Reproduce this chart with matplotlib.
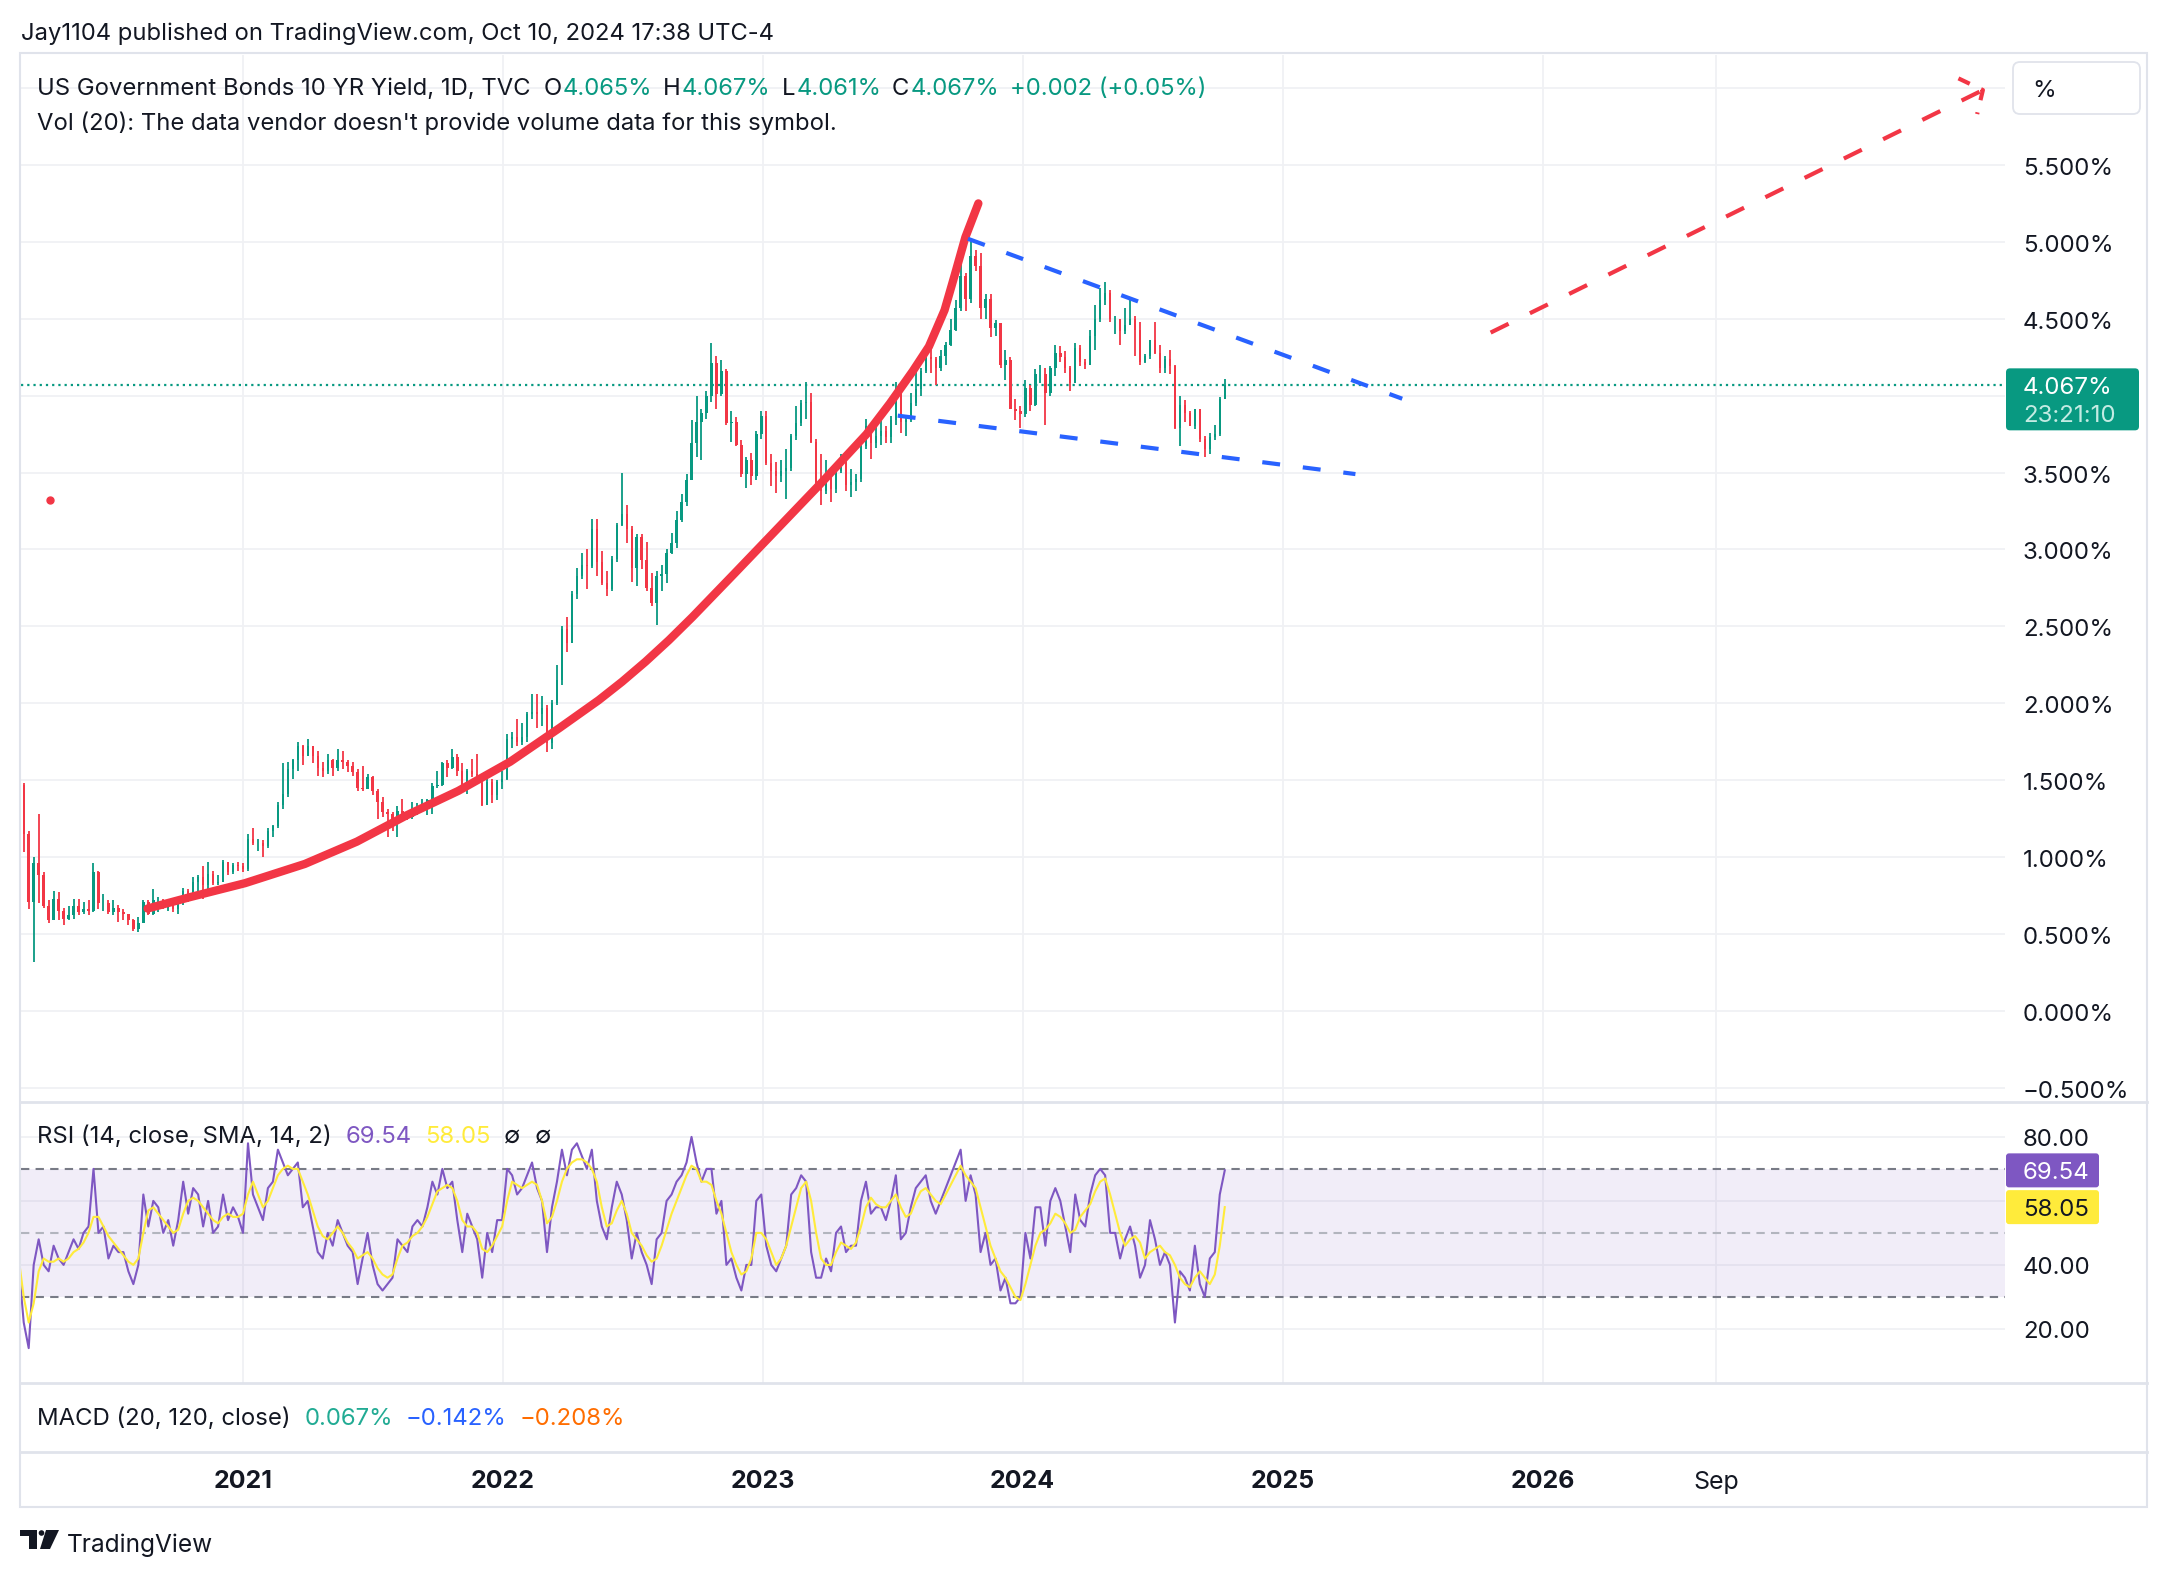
import numpy as np
import pandas as pd
import matplotlib
matplotlib.use('Agg')
import matplotlib.pyplot as plt
import matplotlib.dates as mdates
from matplotlib.patches import FancyBboxPatch, Rectangle, Polygon, Circle

plt.rcParams['font.family'] = ['Inter', 'DejaVu Sans']

# weekly US 10Y yield, week ending Friday (Feb 21 2020 .. Oct 11 2024)
first_open = 1.56
close_2020 = [1.47, 1.15, 0.71, 0.96, 0.88, 0.68, 0.59, 0.73, 0.65, 0.60,
              0.62, 0.68, 0.64, 0.66, 0.65, 0.90, 0.70, 0.70, 0.64, 0.67,
              0.64, 0.63, 0.59, 0.53, 0.57, 0.71, 0.63, 0.72, 0.72, 0.67,
              0.69, 0.66, 0.70, 0.78, 0.74, 0.84, 0.87, 0.82, 0.89, 0.83,
              0.84, 0.97, 0.90, 0.95, 0.94]
high_2020 = [1.59, 1.48, 1.17, 1.00, 1.28, 0.90, 0.72, 0.78, 0.77, 0.67,
             0.68, 0.73, 0.73, 0.71, 0.72, 0.96, 0.91, 0.76, 0.72, 0.72,
             0.69, 0.66, 0.63, 0.60, 0.61, 0.72, 0.72, 0.79, 0.74, 0.73,
             0.71, 0.70, 0.71, 0.80, 0.79, 0.87, 0.88, 0.94, 0.97, 0.91,
             0.88, 0.98, 0.97, 0.96, 0.97]
low_2020 = [1.46, 1.03, 0.66, 0.32, 0.70, 0.67, 0.57, 0.59, 0.59, 0.56,
            0.59, 0.60, 0.62, 0.63, 0.62, 0.64, 0.66, 0.65, 0.63, 0.62,
            0.58, 0.59, 0.56, 0.52, 0.51, 0.57, 0.62, 0.62, 0.64, 0.66,
            0.65, 0.64, 0.63, 0.69, 0.71, 0.74, 0.76, 0.73, 0.77, 0.82,
            0.82, 0.84, 0.88, 0.89, 0.91]

close_2021 = [0.92, 1.12, 1.09, 1.09, 1.07, 1.17, 1.20, 1.34, 1.41, 1.57,
              1.63, 1.72, 1.66, 1.72, 1.66, 1.58, 1.56, 1.63, 1.58, 1.63,
              1.62, 1.59, 1.55, 1.45, 1.44, 1.52, 1.43, 1.36, 1.29, 1.28,
              1.22, 1.30, 1.28, 1.26, 1.31, 1.32, 1.34, 1.37, 1.46, 1.47,
              1.61, 1.58, 1.65, 1.56, 1.45, 1.56, 1.54, 1.48, 1.34, 1.49,
              1.40, 1.49, 1.51]
high_2021 = [0.96, 1.15, 1.19, 1.12, 1.11, 1.19, 1.21, 1.36, 1.61, 1.62,
             1.64, 1.75, 1.73, 1.77, 1.72, 1.69, 1.62, 1.67, 1.64, 1.70,
             1.69, 1.63, 1.62, 1.57, 1.59, 1.54, 1.53, 1.44, 1.39, 1.31,
             1.29, 1.33, 1.38, 1.30, 1.36, 1.35, 1.38, 1.38, 1.48, 1.56,
             1.62, 1.63, 1.70, 1.67, 1.61, 1.57, 1.64, 1.67, 1.50, 1.52,
             1.51, 1.50, 1.56]
low_2021 = [0.90, 0.91, 1.08, 1.04, 1.00, 1.06, 1.13, 1.19, 1.31, 1.39,
            1.51, 1.56, 1.60, 1.66, 1.61, 1.53, 1.52, 1.54, 1.53, 1.56,
            1.57, 1.55, 1.53, 1.43, 1.43, 1.44, 1.40, 1.25, 1.26, 1.13,
            1.17, 1.13, 1.24, 1.24, 1.25, 1.27, 1.29, 1.27, 1.28, 1.45,
            1.46, 1.52, 1.57, 1.53, 1.44, 1.41, 1.52, 1.48, 1.33, 1.34,
            1.35, 1.37, 1.44]

close_2022 = [1.77, 1.78, 1.75, 1.78, 1.93, 1.94, 1.93, 1.97, 1.74, 2.00,
              2.15, 2.48, 2.39, 2.71, 2.83, 2.90, 2.89, 3.13, 2.92, 2.78,
              2.74, 2.94, 3.16, 3.23, 3.13, 2.88, 3.08, 2.93, 2.75, 2.65,
              2.83, 2.84, 2.98, 3.04, 3.19, 3.31, 3.45, 3.69, 3.83, 3.89,
              4.00, 4.21, 4.01, 4.16, 3.82, 3.83, 3.68, 3.49, 3.58, 3.48,
              3.75, 3.87]
high_2022 = [1.80, 1.81, 1.90, 1.87, 1.94, 2.06, 2.06, 2.05, 1.99, 2.02,
             2.25, 2.50, 2.56, 2.73, 2.88, 2.98, 3.00, 3.20, 3.20, 2.99,
             2.86, 2.96, 3.17, 3.50, 3.29, 3.15, 3.10, 3.10, 3.05, 2.85,
             2.86, 2.90, 3.00, 3.11, 3.25, 3.36, 3.49, 3.84, 4.00, 3.91,
             4.03, 4.34, 4.26, 4.23, 4.17, 3.90, 3.86, 3.71, 3.60, 3.63,
             3.77, 3.90]
low_2022 = [1.50, 1.71, 1.72, 1.73, 1.75, 1.90, 1.84, 1.85, 1.68, 1.70,
            1.99, 2.12, 2.33, 2.39, 2.68, 2.81, 2.74, 2.88, 2.83, 2.77,
            2.70, 2.73, 2.92, 3.15, 3.04, 2.79, 2.76, 2.87, 2.73, 2.63,
            2.51, 2.73, 2.78, 2.97, 3.01, 3.18, 3.28, 3.48, 3.60, 3.58,
            3.85, 3.96, 3.91, 4.00, 3.81, 3.70, 3.67, 3.47, 3.40, 3.42,
            3.45, 3.72]

close_2023 = [3.56, 3.51, 3.48, 3.51, 3.53, 3.74, 3.82, 3.95, 3.96, 3.70,
              3.43, 3.38, 3.47, 3.39, 3.51, 3.57, 3.42, 3.44, 3.46, 3.67,
              3.80, 3.69, 3.74, 3.77, 3.73, 3.84, 4.05, 3.83, 3.84, 3.95,
              4.04, 4.16, 4.25, 4.24, 4.18, 4.26, 4.33, 4.43, 4.57, 4.78,
              4.63, 4.91, 4.84, 4.57, 4.63, 4.44, 4.47, 4.20, 4.23, 3.91,
              3.90, 3.88]
high_2023 = [3.90, 3.62, 3.57, 3.58, 3.65, 3.75, 3.93, 3.97, 4.09, 4.02,
             3.72, 3.62, 3.58, 3.49, 3.53, 3.62, 3.60, 3.52, 3.49, 3.70,
             3.85, 3.82, 3.80, 3.84, 3.80, 3.87, 4.09, 4.09, 3.87, 4.02,
             4.20, 4.18, 4.33, 4.33, 4.25, 4.30, 4.35, 4.50, 4.62, 4.89,
             4.80, 5.02, 4.95, 4.93, 4.66, 4.66, 4.49, 4.47, 4.30, 4.25,
             3.98, 3.93]
low_2023 = [3.55, 3.41, 3.37, 3.44, 3.33, 3.51, 3.71, 3.80, 3.85, 3.69,
            3.37, 3.29, 3.36, 3.31, 3.37, 3.50, 3.38, 3.34, 3.38, 3.44,
            3.65, 3.59, 3.66, 3.68, 3.69, 3.69, 3.81, 3.76, 3.74, 3.83,
            3.93, 4.00, 4.15, 4.15, 4.07, 4.16, 4.20, 4.32, 4.42, 4.55,
            4.55, 4.60, 4.81, 4.50, 4.50, 4.38, 4.39, 4.18, 4.10, 3.91,
            3.84, 3.79]

close_2024 = [4.05, 3.94, 4.14, 4.14, 4.02, 4.18, 4.28, 4.25, 4.18, 4.08,
              4.31, 4.22, 4.20, 4.39, 4.50, 4.62, 4.67, 4.50, 4.50, 4.42,
              4.46, 4.50, 4.43, 4.22, 4.26, 4.36, 4.28, 4.18, 4.24, 4.19,
              3.79, 3.94, 3.89, 3.80, 3.91, 3.72, 3.65, 3.73, 3.75, 3.98,
              4.067]
high_2024 = [4.10, 4.07, 4.17, 4.20, 4.18, 4.19, 4.33, 4.32, 4.29, 4.19,
             4.34, 4.33, 4.24, 4.43, 4.59, 4.70, 4.74, 4.69, 4.52, 4.50,
             4.57, 4.63, 4.52, 4.48, 4.27, 4.36, 4.48, 4.33, 4.26, 4.30,
             4.20, 4.00, 3.97, 3.90, 3.91, 3.91, 3.74, 3.76, 3.81, 3.99,
             4.11]
low_2024 = [3.86, 3.90, 3.93, 4.08, 3.81, 4.00, 4.13, 4.22, 4.15, 4.03,
            4.08, 4.19, 4.17, 4.20, 4.30, 4.48, 4.59, 4.48, 4.40, 4.33,
            4.40, 4.46, 4.26, 4.20, 4.21, 4.24, 4.27, 4.15, 4.15, 4.14,
            3.78, 3.67, 3.83, 3.80, 3.78, 3.70, 3.60, 3.62, 3.71, 3.74,
            4.00]

# RSI(14) and its SMA(14), same weeks
rsi_2020 = [40, 22, 14, 40, 48, 40, 38, 46, 42, 40, 44, 48, 45, 50, 52, 70, 50, 52, 42, 46,
            44, 44, 38, 34, 40, 62, 52, 60, 58, 50, 54, 46, 54, 66, 56, 64, 62, 52, 60, 50,
            52, 62, 54, 58, 55]
rsi_2021 = [50, 78, 62, 58, 54, 64, 66, 76, 72, 68, 70, 72, 58, 60, 52, 44, 42, 50, 46, 54,
            50, 46, 44, 34, 42, 50, 40, 34, 32, 34, 36, 48, 46, 44, 52, 54, 52, 58, 66, 62,
            70, 64, 66, 54, 44, 56, 52, 48, 36, 50, 44, 54, 54]
rsi_2022 = [70, 68, 62, 64, 68, 72, 64, 60, 44, 58, 66, 76, 68, 76, 78, 74, 70, 76, 60, 52,
            48, 58, 66, 62, 54, 42, 50, 44, 40, 34, 48, 50, 60, 62, 66, 68, 72, 80, 72, 66,
            70, 70, 56, 60, 40, 42, 36, 32, 40, 40, 60, 62]
rsi_2023 = [46, 40, 38, 42, 46, 62, 64, 68, 66, 44, 36, 36, 42, 38, 50, 52, 44, 46, 46, 60,
            66, 56, 58, 58, 54, 60, 68, 48, 50, 58, 64, 66, 68, 60, 56, 60, 64, 68, 72, 76,
            60, 68, 62, 44, 50, 40, 42, 32, 36, 28, 28, 30]
rsi_2024 = [50, 42, 58, 58, 46, 60, 64, 60, 52, 44, 62, 54, 52, 62, 68, 70, 68, 50, 50, 42,
            48, 52, 46, 36, 40, 54, 48, 40, 44, 40, 22, 38, 36, 32, 46, 34, 30, 42, 44, 62,
            69.54]
ma_2020 = [42, 30, 22, 28, 38, 42, 41, 41, 42, 41, 42, 44, 45, 47, 50, 55, 55, 52, 49, 47,
           45, 43, 41, 40, 42, 50, 57, 58, 56, 54, 52, 50, 51, 56, 60, 61, 60, 58, 56, 54,
           53, 55, 56, 55, 55]
ma_2021 = [56, 62, 66, 62, 58, 60, 64, 68, 70, 71, 70, 70, 66, 62, 57, 52, 49, 48, 50, 52,
           50, 47, 45, 42, 43, 44, 42, 39, 37, 36, 37, 42, 46, 47, 49, 50, 52, 55, 59, 63,
           64, 65, 64, 60, 54, 52, 52, 50, 45, 44, 46, 49, 52]
ma_2022 = [60, 66, 65, 64, 65, 66, 65, 60, 53, 55, 60, 66, 70, 72, 73, 73, 72, 70, 66, 58,
           52, 53, 57, 60, 56, 50, 48, 46, 43, 41, 42, 46, 51, 56, 60, 64, 68, 71, 70, 66,
           66, 65, 60, 56, 50, 44, 40, 37, 38, 42, 50, 50]
ma_2023 = [48, 44, 40, 42, 46, 52, 58, 64, 66, 60, 50, 42, 40, 40, 44, 47, 46, 45, 47, 52,
           58, 61, 59, 58, 58, 60, 62, 58, 55, 56, 60, 63, 64, 62, 60, 59, 62, 65, 68, 71,
           68, 66, 64, 58, 52, 46, 42, 38, 36, 33, 30, 29]
ma_2024 = [34, 40, 46, 50, 51, 53, 56, 55, 53, 50, 51, 55, 57, 59, 63, 66, 67, 62, 56, 50,
           46, 48, 49, 47, 42, 44, 45, 46, 44, 43, 40, 36, 34, 33, 36, 38, 36, 34, 37, 46,
           58.05]

# hand-drawn annotations (fractional year, yield %)
curve_yr = [2020.635, 2020.80, 2021.01, 2021.24, 2021.44, 2021.63, 2021.83, 2022.03,
            2022.22, 2022.37, 2022.46, 2022.55, 2022.64, 2022.73, 2022.89, 2023.06,
            2023.23, 2023.40, 2023.49, 2023.578, 2023.64, 2023.70, 2023.74, 2023.78,
            2023.83]
curve_val = [0.665, 0.74, 0.83, 0.955, 1.10, 1.27, 1.43, 1.62, 1.84, 2.02, 2.14, 2.27,
             2.41, 2.56, 2.84, 3.14, 3.44, 3.75, 3.95, 4.16, 4.32, 4.556, 4.79, 5.03, 5.25]
upper_yr, upper_val = [2023.79, 2025.46], [5.02, 3.98]
lower_yr, lower_val = [2023.52, 2025.28], [3.87, 3.49]
arrow_yr, arrow_val = [2025.80, 2027.693], [4.41, 5.987]
head_yr, head_val = [2027.599, 2027.693, 2027.671], [6.063, 5.987, 5.831]
dot_yr, dot_val = 2020.26, 3.32
last_price = 4.067

price_ticks = [5.5, 5.0, 4.5, 3.5, 3.0, 2.5, 2.0, 1.5, 1.0, 0.5, 0.0, -0.5]
price_labels = ['5.500%', '5.000%', '4.500%', '3.500%', '3.000%', '2.500%', '2.000%',
                '1.500%', '1.000%', '0.500%', '0.000%', '\u22120.500%']
rsi_ticks = [80, 40, 20]
rsi_labels = ['80.00', '40.00', '20.00']
time_ticks = ['2021-01-01', '2022-01-01', '2023-01-01', '2024-01-01', '2025-01-01',
              '2026-01-01', '2026-09-01']
time_labels = ['2021', '2022', '2023', '2024', '2025', '2026', 'Sep']

GREEN = '#089981'
RED = '#F23645'
BLUE = '#2962FF'
PURPLE = '#7E57C2'
YELLOW = '#FFEB3B'
INK = '#131722'
GRID = '#F0F1F4'
SEP = '#E0E3EB'

close = np.array(close_2020 + close_2021 + close_2022 + close_2023 + close_2024)
high = np.array(high_2020 + high_2021 + high_2022 + high_2023 + high_2024)
low = np.array(low_2020 + low_2021 + low_2022 + low_2023 + low_2024)
rsi = np.array(rsi_2020 + rsi_2021 + rsi_2022 + rsi_2023 + rsi_2024)
rsi_ma = np.array(ma_2020 + ma_2021 + ma_2022 + ma_2023 + ma_2024)
opens = np.r_[first_open, close[:-1]]
dates = pd.date_range('2020-02-21', periods=len(close), freq='W-FRI')
xd = mdates.date2num(dates)


def yr(y):
    return mdates.date2num(pd.Timestamp('2020-01-01')) + (np.asarray(y) - 2020) * 365.25


W, H = 2168, 1576
DY = 3  # text baseline nudge (px)
fig = plt.figure(figsize=(W / 100, H / 100), dpi=100)
fig.patch.set_facecolor('white')


def box(x0, y0, x1, y1):
    return [x0 / W, 1 - y1 / H, (x1 - x0) / W, (y1 - y0) / H]


ax_p = fig.add_axes(box(21, 55, 2005, 1102))
ax_r = fig.add_axes(box(21, 1102, 2005, 1383))
ax_m = fig.add_axes(box(21, 1383, 2005, 1452))

jan21 = mdates.date2num(pd.Timestamp('2021-01-01'))
ppd = 1300 / 1826.0
xlim = (jan21 - 222 / ppd, jan21 + 1762 / ppd)
for a in (ax_p, ax_r, ax_m):
    a.set_xlim(*xlim)
    a.set_xticks([])
    a.set_yticks([])
    for s in a.spines.values():
        s.set_visible(False)
    a.patch.set_alpha(0)

ax_p.set_ylim(-0.593, 6.215)
ax_r.set_ylim(3.1, 90.9)
ax_m.set_ylim(0, 1)

# grid
for v in np.arange(-0.5, 6.01, 0.5):
    ax_p.axhline(v, color=GRID, lw=1.3, zorder=0)
for v in [80, 60, 40, 20]:
    ax_r.axhline(v, color=GRID, lw=1.3, zorder=0)
for d in time_ticks:
    for a in (ax_p, ax_r):
        a.axvline(mdates.date2num(pd.Timestamp(d)), color=GRID, lw=1.3, zorder=0)

# candles
cols = np.where(close >= opens, GREEN, RED)
ax_p.vlines(xd, low, high, colors=cols, lw=1.3, zorder=2)
ax_p.bar(xd, close - opens, bottom=opens, width=3.4, color=cols, linewidth=0, zorder=2)

ax_p.axhline(last_price, color=GREEN, lw=1.6, ls=(0, (1, 1.8)), zorder=1)

# drawings
ax_p.plot(yr(curve_yr), curve_val, color=RED, lw=6, solid_capstyle='round',
          solid_joinstyle='round', zorder=4)
ax_p.plot(yr(upper_yr), upper_val, color=BLUE, lw=3, dashes=(4.3, 5.5), zorder=4)
ax_p.plot(yr(lower_yr), lower_val, color=BLUE, lw=3, dashes=(4.3, 5.5), zorder=4)
ax_p.plot(yr(arrow_yr), arrow_val, color=RED, lw=3, dashes=(4.8, 5.7), zorder=4)
ax_p.plot(yr(head_yr), head_val, color=RED, lw=3, dashes=(3.0, 3.0), zorder=4)
ax_p.plot(yr(dot_yr), dot_val, 'o', color=RED, ms=5, zorder=4)

# RSI pane
ax_r.axhspan(30, 70, color=PURPLE, alpha=0.1, lw=0, zorder=0)
ax_r.axhline(70, color='#787B86', lw=1.5, ls=(0, (4, 3)), zorder=1)
ax_r.axhline(50, color='#B2B5BE', lw=1.5, ls=(0, (4, 3)), zorder=1)
ax_r.axhline(30, color='#787B86', lw=1.5, ls=(0, (4, 3)), zorder=1)
ax_r.plot(xd, rsi, color=PURPLE, lw=1.5, zorder=3)
ax_r.plot(xd, rsi_ma, color=YELLOW, lw=1.5, zorder=4)

# overlay in pixel coordinates
ov = fig.add_axes([0, 0, 1, 1])
ov.set_xlim(0, W)
ov.set_ylim(H, 0)
ov.axis('off')
ov.patch.set_alpha(0)
renderer = fig.canvas.get_renderer()


def size_for(s, width, **kw):
    t = ov.text(0, 0, s, fontsize=20, **kw)
    w = t.get_window_extent(renderer).width
    t.remove()
    return 20 * width / w


def seq(x, y, parts, size):
    for s, c, gap in parts:
        t = ov.text(x, y + DY, s, color=c, fontsize=size, va='center', ha='left')
        x += t.get_window_extent(renderer).width + gap


def pix_y(ax, v):
    return H - ax.transData.transform((0, v))[1]


# frame and separators
ov.add_patch(Rectangle((20, 53), 2127, 1454, fill=False, ec=SEP, lw=1.5))
for y in (1102, 1383, 1452):
    ov.plot([20, 2147], [y, y], color=SEP, lw=2)

# top texts
title = 'Jay1104 published on TradingView.com, Oct 10, 2024 17:38 UTC-4'
fs_title = size_for(title, 753)
ov.text(21, 30 + DY + 1, title, fontsize=fs_title, color=INK, va='center')
fs_h = size_for('US Government Bonds 10 YR Yield, 1D, TVC', 493)
seq(37, 86, [('US Government Bonds 10 YR Yield, 1D, TVC', INK, 13),
             ('O', INK, 1), ('4.065%', GREEN, 11),
             ('H', INK, 1), ('4.067%', GREEN, 11),
             ('L', INK, 1), ('4.061%', GREEN, 11),
             ('C', INK, 1), ('4.067%', GREEN, 11),
             ('+0.002 (+0.05%)', GREEN, 0)], fs_h)
ov.text(37, 120 + DY, "Vol (20): The data vendor doesn't provide volume data for this symbol.",
        fontsize=fs_h, color=INK, va='center')

fs_r = size_for('RSI (14, close, SMA, 14, 2)', 295)
seq(37, 1134, [('RSI (14, close, SMA, 14, 2)', INK, 14), ('69.54', PURPLE, 13),
               ('58.05', YELLOW, 14), ('\u2205', INK, 14), ('\u2205', INK, 0)], fs_r)
seq(37, 1416, [('MACD (20, 120, close)', INK, 14), ('0.067%', '#22AB94', 13),
               ('\u22120.142%', BLUE, 13), ('\u22120.208%', '#FF6D00', 0)], fs_r)

# price scale
fs_ax = size_for('5.500%', 90)
for v, s in zip(price_ticks, price_labels):
    ov.text(2023, pix_y(ax_p, v) + DY + 1, s, fontsize=fs_ax, color=INK, va='center')
for v, s in zip(rsi_ticks, rsi_labels):
    ov.text(2023, pix_y(ax_r, v) + DY, s, fontsize=fs_ax, color=INK, va='center')

py = pix_y(ax_p, last_price)
ov.add_patch(FancyBboxPatch((2006, py - 17), 133, 62, boxstyle='round,pad=0,rounding_size=4',
                            fc=GREEN, ec='none'))
ov.text(2023, py + DY, '4.067%', fontsize=fs_ax, color='white', va='center')
ov.text(2023, py + 28 + DY, '23:21:10', fontsize=fs_ax, color='#C4EBE3', va='center')

ov.add_patch(FancyBboxPatch((2013, 62), 127, 52, boxstyle='round,pad=0,rounding_size=7',
                            fc='white', ec=SEP, lw=1.3))
ov.text(2032, 88 + DY, '%', fontsize=fs_ax, color=INK, va='center')

ry = pix_y(ax_r, rsi[-1])
ov.add_patch(FancyBboxPatch((2006, ry - 17), 93, 34, boxstyle='round,pad=0,rounding_size=3',
                            fc=PURPLE, ec='none'))
ov.text(2023, ry + DY, '69.54', fontsize=fs_ax, color='white', va='center')
my = pix_y(ax_r, rsi_ma[-1])
ov.add_patch(FancyBboxPatch((2006, my - 17), 93, 34, boxstyle='round,pad=0,rounding_size=3',
                            fc=YELLOW, ec='none'))
ov.text(2023, my + DY, '58.05', fontsize=fs_ax, color=INK, va='center')

# time scale
fs_t = size_for('2021', 59, fontweight='bold')
for d, s in zip(time_ticks, time_labels):
    x = ax_p.transData.transform((mdates.date2num(pd.Timestamp(d)), 0))[0]
    ov.text(x, 1479 + DY, s, fontsize=fs_t, color=INK, va='center', ha='center',
            fontweight='normal' if s == 'Sep' else 'bold')

# footer logo
ov.add_patch(Polygon([(20, 1530), (37, 1530), (37, 1549), (29, 1549), (29, 1536), (20, 1536)],
                     closed=True, fc=INK, ec='none'))
ov.add_patch(Circle((41.5, 1533), 2.8, fc=INK, ec='none'))
ov.add_patch(Polygon([(46, 1530), (59, 1530), (50, 1549), (40, 1549)], closed=True,
                     fc=INK, ec='none'))
fs_f = size_for('TradingView', 146)
ov.text(67, 1542 + DY, 'TradingView', fontsize=fs_f, color=INK, va='center')

fig.savefig('out.png', dpi=100, facecolor='white')
